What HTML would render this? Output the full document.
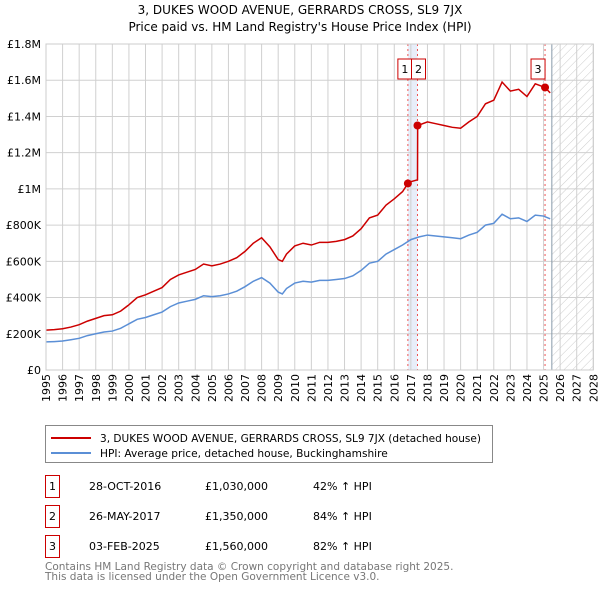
<!DOCTYPE html>
<html><head><meta charset="utf-8">
<style>
body{margin:0;background:#fff;font-family:"DejaVu Sans","Liberation Sans",sans-serif;}
svg text{font-family:"DejaVu Sans","Liberation Sans",sans-serif;}
</style></head>
<body>
<svg id="chart" width="600" height="590" xmlns="http://www.w3.org/2000/svg">
<defs><pattern id="hatch" width="6" height="6" patternUnits="userSpaceOnUse" patternTransform="rotate(45)"><line x1="0" y1="0" x2="0" y2="6" stroke="#ccc" stroke-width="1"/></pattern></defs>
<text x="300" y="14" text-anchor="middle" font-size="12">3, DUKES WOOD AVENUE, GERRARDS CROSS, SL9 7JX</text>
<text x="300" y="31" text-anchor="middle" font-size="12">Price paid vs. HM Land Registry's House Price Index (HPI)</text>
<g id="grid"></g><g id="marks"></g><g id="axes"></g>
<rect x="45.5" y="425.5" width="447" height="37" fill="#fff" stroke="#888"/>
<line x1="51" y1="438" x2="91" y2="438" stroke="#cc0000" stroke-width="2"/>
<text x="100" y="442" font-size="10.6" textLength="381" lengthAdjust="spacingAndGlyphs">3, DUKES WOOD AVENUE, GERRARDS CROSS, SL9 7JX (detached house)</text>
<line x1="51" y1="453" x2="91" y2="453" stroke="#5b8fd6" stroke-width="2"/>
<text x="100" y="457" font-size="10.6">HPI: Average price, detached house, Buckinghamshire</text>
<g id="table" font-size="11"></g>
<text x="45" y="570" font-size="10.5" fill="#777">Contains HM Land Registry data © Crown copyright and database right 2025.</text>
<text x="45" y="580" font-size="10.5" fill="#777">This data is licensed under the Open Government Licence v3.0.</text>
</svg>
<script>
const hpiT=[1995,1995.5,1996,1996.5,1997,1997.5,1998,1998.5,1999,1999.5,2000,2000.5,2001,2001.5,2002,2002.5,2003,2003.5,2004,2004.5,2005,2005.5,2006,2006.5,2007,2007.5,2008,2008.5,2009,2009.25,2009.5,2010,2010.5,2011,2011.5,2012,2012.5,2013,2013.5,2014,2014.5,2015,2015.5,2016,2016.5,2017,2017.5,2018,2018.5,2019,2019.5,2020,2020.5,2021,2021.5,2022,2022.5,2023,2023.5,2024,2024.5,2025,2025.4];
const hpiV=[155,157,160,167,175,190,200,210,215,230,255,280,290,305,320,350,370,380,390,410,405,410,420,435,460,490,510,480,430,420,450,480,490,485,495,495,500,505,520,550,590,600,640,665,690,720,735,745,740,735,730,725,745,760,800,810,860,835,840,820,855,850,835];
const redT=[1995,1995.5,1996,1996.5,1997,1997.5,1998,1998.5,1999,1999.5,2000,2000.5,2001,2001.5,2002,2002.5,2003,2003.5,2004,2004.5,2005,2005.5,2006,2006.5,2007,2007.5,2008,2008.5,2009,2009.25,2009.5,2010,2010.5,2011,2011.5,2012,2012.5,2013,2013.5,2014,2014.5,2015,2015.5,2016,2016.5,2016.82,2017.0,2017.4,2017.41,2018,2018.5,2019,2019.5,2020,2020.5,2021,2021.5,2022,2022.5,2023,2023.5,2024,2024.5,2025.09,2025.4];
const redV=[220,223,228,237,250,270,285,300,305,325,360,400,415,435,455,500,525,540,555,585,575,585,600,620,655,700,730,680,610,600,640,685,700,690,705,705,710,720,740,780,840,855,910,945,985,1030,1040,1050,1350,1370,1360,1350,1340,1335,1370,1400,1470,1490,1590,1540,1550,1510,1580,1560,1530];
const sales=[{n:"1",t:2016.82,v:1030,d:"28-OCT-2016",p:"£1,030,000",h:"42% ↑ HPI"},{n:"2",t:2017.4,v:1350,d:"26-MAY-2017",p:"£1,350,000",h:"84% ↑ HPI"},{n:"3",t:2025.09,v:1560,d:"03-FEB-2025",p:"£1,560,000",h:"82% ↑ HPI"}];
const yTicks=[0,200,400,600,800,1000,1200,1400,1600,1800];
const yLabels=["£0","£200K","£400K","£600K","£800K","£1M","£1.2M","£1.4M","£1.6M","£1.8M"];
const xTicks=[];for(let y=1995;y<=2028;y++)xTicks.push(y);
const X0=46,X1=593.3,Y0=370,Y1=44;
const sx=t=>X0+(t-1995)/(2028-1995)*(X1-X0);
const sy=v=>Y0-v/1800*(Y0-Y1);
const NS="http://www.w3.org/2000/svg";
function mk(tag,attrs,parent){const e=document.createElementNS(NS,tag);for(const k in attrs)e.setAttribute(k,attrs[k]);document.getElementById(parent).appendChild(e);return e;}
let e=mk("rect",{x:sx(2025.5),y:Y1,width:X1-sx(2025.5),height:Y0-Y1,fill:"url(#hatch)"},"grid");


e=mk("rect",{x:sx(2016.82),y:Y1,width:sx(2017.4)-sx(2016.82),height:Y0-Y1,fill:"#e8eef9"},"grid");


xTicks.forEach(t=>{const l=mk("line",{x1:sx(t),x2:sx(t),y1:Y1,y2:Y0,stroke:"#d0d0d0"},"grid");


const tx=mk("text",{x:0,y:0,"font-size":11,transform:`translate(${sx(t)+4},${Y0+4}) rotate(-90)`,"text-anchor":"end"},"axes");tx.textContent=t;

});
yTicks.forEach((v,i)=>{const l=mk("line",{x1:X0,x2:X1,y1:sy(v),y2:sy(v),stroke:"#d0d0d0"},"grid");


const tx=mk("text",{x:X0-5,y:sy(v)+4,"font-size":11,"text-anchor":"end"},"axes");tx.textContent=yLabels[i];

});
e=mk("line",{x1:sx(2025.5),x2:sx(2025.5),y1:Y1,y2:Y0,stroke:"#8899aa"},"grid");


sales.forEach(s=>{const l=mk("line",{x1:sx(s.t),x2:sx(s.t),y1:Y1,y2:Y0,stroke:"#ee5555","stroke-dasharray":"2,3"},"grid");

});
let p=mk("polyline",{points:hpiT.map((t,i)=>sx(t)+","+sy(hpiV[i])).join(" "),fill:"none",stroke:"#5b8fd6","stroke-width":1.5},"marks");


p=mk("polyline",{points:redT.map((t,i)=>sx(t)+","+sy(redV[i])).join(" "),fill:"none",stroke:"#cc0000","stroke-width":1.5},"marks");


sales.forEach((s,i)=>{const c=mk("circle",{cx:sx(s.t),cy:sy(s.v),r:4,fill:"#cc0000"},"marks");


const bx=i==0?sx(s.t)-10:(i==1?sx(s.t)-6:sx(s.t)-14);
const r=mk("rect",{x:bx,y:59,width:14,height:20,fill:"#fff",stroke:"#cc0000"},"marks");


const tx=mk("text",{x:bx+7,y:73,"font-size":11,"text-anchor":"middle"},"marks");tx.textContent=s.n;


const ry=475+i*30;
const b=mk("rect",{x:45.5,y:ry+0.5,width:14,height:22,fill:"#fff",stroke:"#cc0000"},"table");


[[52.5,s.n,"middle"],[89,s.d,"start"],[205,s.p,"start"],[313,s.h,"start"]].forEach(([x,t,a],j)=>{const q=mk("text",{x:x,y:ry+15,"text-anchor":a},"table");q.textContent=t;

});});
e=mk("rect",{x:X0,y:Y1,width:X1-X0,height:Y0-Y1,fill:"none",stroke:"#ccc"},"axes");


</script>
</body></html>
